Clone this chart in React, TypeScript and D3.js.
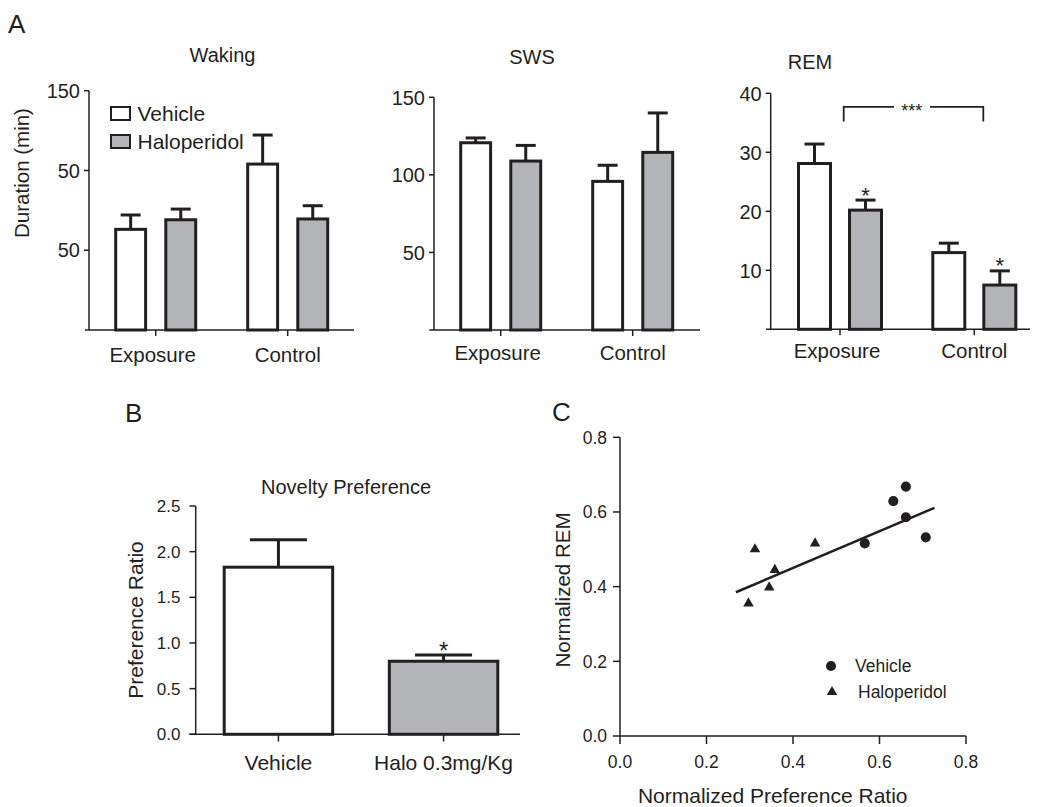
import * as d3 from 'd3'

const FONT = '"Liberation Sans", Arial, Helvetica, sans-serif'
const INK = '#231f20'
const GRAY = '#b3b4b7'

// panel A
const groups = ['Exposure', 'Control']
const series = ['Vehicle', 'Haloperidol']

const wakingVehicle = [63.1, 104.0]
const wakingVehicleSem = [9.0, 18.2]
const wakingHalo = [69.1, 69.6]
const wakingHaloSem = [6.7, 8.3]
const wakingTicks = [150, 100, 50]
const wakingTickLabels = ['150', '50', '50']

const swsVehicle = [120.7, 95.8]
const swsVehicleSem = [3.1, 10.4]
const swsHalo = [108.9, 114.5]
const swsHaloSem = [10.1, 25.4]
const swsTicks = [150, 100, 50]
const swsTickLabels = ['150', '100', '50']

const remVehicle = [28.1, 13.0]
const remVehicleSem = [3.3, 1.6]
const remHalo = [20.2, 7.5]
const remHaloSem = [1.7, 2.4]
const remTicks = [40, 30, 20, 10]
const remTickLabels = ['40', '30', '20', '10']

// panel B
const novConditions = ['Vehicle', 'Halo 0.3mg/Kg']
const novMean = [1.83, 0.8]
const novSem = [0.3, 0.068]
const novTicks = [0, 0.5, 1.0, 1.5, 2.0, 2.5]

// panel C
const vehX = [0.661, 0.632, 0.661, 0.707, 0.566]
const vehY = [0.668, 0.629, 0.586, 0.532, 0.516]
const haloX = [0.312, 0.451, 0.358, 0.345, 0.297]
const haloY = [0.5, 0.516, 0.445, 0.398, 0.355]
const fitX = [0.268, 0.727]
const fitY = [0.385, 0.611]
const corrTicks = [0, 0.2, 0.4, 0.6, 0.8]

type BarProps = {
  axisX: number
  xStart: number
  xEnd: number
  yTop: number
  yBase: number
  max: number
  ticks: number[]
  tickLabels: string[]
  centers: number[]
  half: number
  pad: number
  vehicle: number[]
  vehicleSem: number[]
  halo: number[]
  haloSem: number[]
  capW: number
  title: string
  titleX: number
  titleY: number
  labelY: number
  stars?: boolean
}

const BarPanel = (p: BarProps) => {
  const y = d3.scaleLinear().domain([0, p.max]).range([p.yBase, p.yTop])
  const gx = d3.scalePoint<string>().domain(groups).range([p.centers[0], p.centers[1]])
  const sub = d3.scaleBand<string>().domain(series).range([-p.half, p.half]).paddingInner(p.pad)
  const bars: { g: string; s: string; v: number; e: number }[] = []
  groups.forEach((g, i) => {
    bars.push({ g, s: 'Vehicle', v: p.vehicle[i], e: p.vehicleSem[i] })
    bars.push({ g, s: 'Haloperidol', v: p.halo[i], e: p.haloSem[i] })
  })
  return (
    <g>
      <text x={p.titleX} y={p.titleY} textAnchor='middle' fontSize={20}>
        {p.title}
      </text>
      <line x1={p.axisX} x2={p.axisX} y1={p.yTop} y2={p.yBase} stroke={INK} strokeWidth={1.5} />
      {p.ticks.map((t, i) => (
        <g key={t}>
          <line x1={p.axisX - 5} x2={p.axisX} y1={y(t)} y2={y(t)} stroke={INK} strokeWidth={1.5} />
          <text x={p.axisX - 9} y={y(t)} dy='0.36em' textAnchor='end' fontSize={20}>
            {p.tickLabels[i]}
          </text>
        </g>
      ))}
      {bars.map((b) => {
        const x0 = gx(b.g)! + sub(b.s)!
        const w = sub.bandwidth()
        const cx = x0 + w / 2
        return (
          <g key={b.g + b.s}>
            <line x1={cx} x2={cx} y1={y(b.v)} y2={y(b.v + b.e)} stroke={INK} strokeWidth={3} />
            <line
              x1={cx - p.capW / 2}
              x2={cx + p.capW / 2}
              y1={y(b.v + b.e)}
              y2={y(b.v + b.e)}
              stroke={INK}
              strokeWidth={3}
            />
            <rect
              x={x0 + 1.5}
              y={y(b.v)}
              width={w - 3}
              height={p.yBase - y(b.v)}
              fill={b.s === 'Vehicle' ? 'white' : GRAY}
              stroke={INK}
              strokeWidth={3}
            />
            {p.stars && b.s === 'Haloperidol' ? (
              <text x={cx} y={y(b.v + b.e) + 2.5} textAnchor='middle' fontSize={22}>
                *
              </text>
            ) : null}
          </g>
        )
      })}
      <line x1={p.xStart} x2={p.xEnd} y1={p.yBase} y2={p.yBase} stroke={INK} strokeWidth={1.5} />
      {groups.map((g) => (
        <g key={g}>
          <line x1={gx(g)} x2={gx(g)} y1={p.yBase} y2={p.yBase + 6} stroke={INK} strokeWidth={1.5} />
          <text x={gx(g)! - (g === 'Exposure' ? 3 : 0)} y={p.labelY} textAnchor='middle' fontSize={20.5}>
            {g}
          </text>
        </g>
      ))}
    </g>
  )
}

const NoveltyPanel = () => {
  const y = d3.scaleLinear().domain([0, 2.5]).range([734.3, 506])
  const x = d3.scaleBand<string>().domain(novConditions).range([222.7, 499.3]).paddingInner(0.325)
  const fmt = d3.format('.1f')
  return (
    <g>
      <text x={125} y={421.7} fontSize={26}>
        B
      </text>
      <text x={346} y={494} textAnchor='middle' fontSize={20}>
        Novelty Preference
      </text>
      <text transform='translate(142.5,620) rotate(-90)' textAnchor='middle' fontSize={21}>
        Preference Ratio
      </text>
      <line x1={195.7} x2={195.7} y1={506} y2={734.3} stroke={INK} strokeWidth={1.5} />
      {novTicks.map((t) => (
        <g key={t}>
          <line x1={189.5} x2={195.7} y1={y(t)} y2={y(t)} stroke={INK} strokeWidth={1.5} />
          <text x={180.5} y={y(t)} dy='0.36em' textAnchor='end' fontSize={17}>
            {fmt(t)}
          </text>
        </g>
      ))}
      {novConditions.map((c, i) => {
        const x0 = x(c)!
        const w = x.bandwidth()
        const cx = x0 + w / 2
        const top = y(novMean[i] + novSem[i])
        return (
          <g key={c}>
            <line x1={cx} x2={cx} y1={y(novMean[i])} y2={top} stroke={INK} strokeWidth={3} />
            <line x1={cx - 28.5} x2={cx + 28.5} y1={top} y2={top} stroke={INK} strokeWidth={3} />
            <rect
              x={x0 + 1.5}
              y={y(novMean[i])}
              width={w - 3}
              height={734.3 - y(novMean[i])}
              fill={i === 0 ? 'white' : GRAY}
              stroke={INK}
              strokeWidth={3}
            />
            {i === 1 ? (
              <text x={cx} y={top + 3.5} textAnchor='middle' fontSize={24}>
                *
              </text>
            ) : null}
            <line x1={cx} x2={cx} y1={734.3} y2={741.5} stroke={INK} strokeWidth={1.5} />
            <text x={cx} y={770} textAnchor='middle' fontSize={21}>
              {c}
            </text>
          </g>
        )
      })}
      <line x1={189.3} x2={520} y1={734.3} y2={734.3} stroke={INK} strokeWidth={1.5} />
    </g>
  )
}

const CorrPanel = () => {
  const x = d3.scaleLinear().domain([0, 0.8]).range([620, 966])
  const y = d3.scaleLinear().domain([0, 0.8]).range([736, 437.3])
  const fmt = d3.format('.1f')
  const tri = d3.symbol(d3.symbolTriangle, 48)()!
  const dot = d3.symbol(d3.symbolCircle, 80)()!
  const fit = d3
    .line<number>()
    .x((d) => x(d))
    .y((_, i) => y(fitY[i]))(fitX)!
  return (
    <g>
      <text x={552} y={420.7} fontSize={26}>
        C
      </text>
      <line x1={620} x2={620} y1={437.3} y2={736} stroke={INK} strokeWidth={1.5} />
      {corrTicks.map((t) => (
        <g key={'y' + t}>
          <line x1={613} x2={620} y1={y(t)} y2={y(t)} stroke={INK} strokeWidth={1.5} />
          <text x={607} y={y(t)} dy='0.36em' textAnchor='end' fontSize={17.5}>
            {fmt(t)}
          </text>
        </g>
      ))}
      <line x1={620} x2={966} y1={736} y2={736} stroke={INK} strokeWidth={1.5} />
      {corrTicks.map((t) => (
        <g key={'x' + t}>
          <line x1={x(t)} x2={x(t)} y1={736} y2={744} stroke={INK} strokeWidth={1.5} />
          <text x={x(t)} y={768} textAnchor='middle' fontSize={17.5}>
            {fmt(t)}
          </text>
        </g>
      ))}
      <path d={fit} stroke={INK} strokeWidth={2.5} fill='none' />
      {vehX.map((v, i) => (
        <path key={'v' + i} d={dot} transform={`translate(${x(v)},${y(vehY[i])})`} fill={INK} />
      ))}
      {haloX.map((v, i) => (
        <path key={'h' + i} d={tri} transform={`translate(${x(v)},${y(haloY[i])})`} fill={INK} />
      ))}
      <path d={dot} transform='translate(831,666)' fill={INK} />
      <text x={855} y={672} fontSize={17.5}>
        Vehicle
      </text>
      <path d={tri} transform='translate(832,692)' fill={INK} />
      <text x={858} y={698} fontSize={17.5}>
        Haloperidol
      </text>
      <text transform='translate(570,590) rotate(-90)' textAnchor='middle' fontSize={20.5}>
        Normalized REM
      </text>
      <text x={772.7} y={802.5} textAnchor='middle' fontSize={21}>
        Normalized Preference Ratio
      </text>
    </g>
  )
}

const RemBracket = () => {
  const y = d3.scaleLinear().domain([0, 40]).range([329.3, 93.3])
  const top = y(37.7)
  const leg = y(35.2)
  return (
    <g>
      <path d={`M843.7,${leg}V${top}H894`} stroke={INK} strokeWidth={1.8} fill='none' />
      <path d={`M930,${top}H983.3V${leg}`} stroke={INK} strokeWidth={1.8} fill='none' />
      <text x={911.7} y={top + 10} textAnchor='middle' fontSize={18}>
        ***
      </text>
    </g>
  )
}

export default function App() {
  return (
    <svg
      width={1040}
      height={807}
      style={{ position: 'absolute', left: 0, top: 0, background: 'white' }}
      fontFamily={FONT}
      fill={INK}
    >
      <text x={8} y={33} fontSize={26}>
        A
      </text>
      <text transform='translate(29,173) rotate(-90)' textAnchor='middle' fontSize={20.5}>
        Duration (min)
      </text>
      <BarPanel
        axisX={89}
        xStart={85}
        xEnd={354}
        yTop={90.7}
        yBase={330}
        max={150}
        ticks={wakingTicks}
        tickLabels={wakingTickLabels}
        centers={[155.7, 287.7]}
        half={41.5}
        pad={0.343}
        vehicle={wakingVehicle}
        vehicleSem={wakingVehicleSem}
        halo={wakingHalo}
        haloSem={wakingHaloSem}
        capW={20}
        title='Waking'
        titleX={222.5}
        titleY={61.7}
        labelY={361.5}
      />
      {series.map((s, i) => (
        <g key={s}>
          <rect
            x={111}
            y={107 + i * 28}
            width={19}
            height={13}
            fill={i === 0 ? 'white' : GRAY}
            stroke={INK}
            strokeWidth={2}
          />
          <text x={137.5} y={120.5 + i * 28} fontSize={21}>
            {s}
          </text>
        </g>
      ))}
      <BarPanel
        axisX={434}
        xStart={429.3}
        xEnd={700}
        yTop={97.3}
        yBase={330}
        max={150}
        ticks={swsTicks}
        tickLabels={swsTickLabels}
        centers={[500.7, 632.7]}
        half={41.5}
        pad={0.343}
        vehicle={swsVehicle}
        vehicleSem={swsVehicleSem}
        halo={swsHalo}
        haloSem={swsHaloSem}
        capW={20}
        title='SWS'
        titleX={532}
        titleY={64}
        labelY={360}
      />
      <BarPanel
        axisX={770.7}
        xStart={766}
        xEnd={1030}
        yTop={93.3}
        yBase={329.3}
        max={40}
        ticks={remTicks}
        tickLabels={remTickLabels}
        centers={[840, 974.3]}
        half={43}
        pad={0.314}
        vehicle={remVehicle}
        vehicleSem={remVehicleSem}
        halo={remHalo}
        haloSem={remHaloSem}
        capW={20}
        title='REM'
        titleX={810}
        titleY={69}
        labelY={358}
        stars
      />
      <RemBracket />
      <NoveltyPanel />
      <CorrPanel />
    </svg>
  )
}
